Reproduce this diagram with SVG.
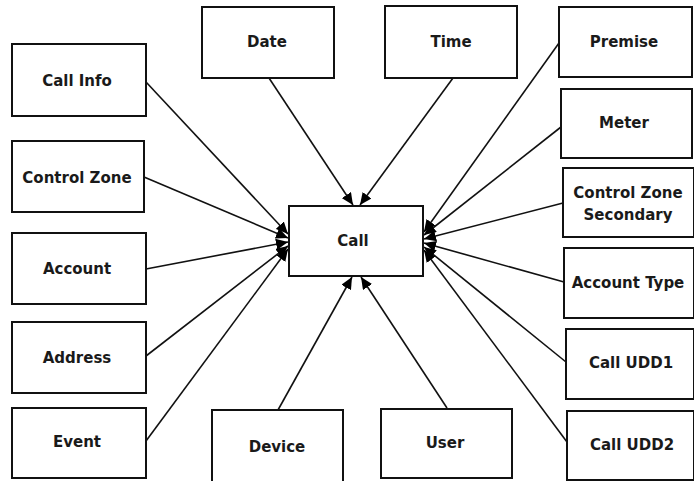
<svg xmlns="http://www.w3.org/2000/svg" width="694" height="481" viewBox="0 0 694 481">
<defs>
<marker id="arr" markerUnits="userSpaceOnUse" markerWidth="13" markerHeight="11" refX="12" refY="5.5" orient="auto">
<path d="M0,0 L12,5.5 L0,11 z" fill="#000"/>
</marker>
<style>
.box{fill:#fff;stroke:#111;stroke-width:2}
.t{font-family:"DejaVu Sans",Verdana,sans-serif;font-weight:bold;font-size:15px;fill:#1a1a1a;text-anchor:middle}
.c line{stroke:#111;stroke-width:1.6;marker-end:url(#arr)}
</style>
</defs>
<rect width="694" height="481" fill="#fff"/>
<g class="c" id="connectors">
<line x1="146" y1="82" x2="288" y2="234"/>
<line x1="144" y1="177" x2="288" y2="238"/>
<line x1="146" y1="269" x2="288" y2="242"/>
<line x1="146" y1="356" x2="288" y2="246"/>
<line x1="146" y1="441" x2="288" y2="249"/>
<line x1="269" y1="78" x2="353" y2="205"/>
<line x1="453" y1="78" x2="360" y2="205"/>
<line x1="278" y1="410" x2="352" y2="277"/>
<line x1="447" y1="408" x2="361" y2="277"/>
<line x1="559" y1="43" x2="424" y2="232"/>
<line x1="561" y1="127" x2="424" y2="235"/>
<line x1="563" y1="203" x2="424" y2="239"/>
<line x1="564" y1="282" x2="424" y2="243"/>
<line x1="566" y1="362" x2="424" y2="247"/>
<line x1="567" y1="442" x2="424" y2="250"/>
</g>
<g id="call"><rect class="box" x="289" y="206" width="134" height="70"/><text class="t" x="353" y="246">Call</text></g>
<g id="callinfo"><rect class="box" x="12" y="44" width="134" height="72"/><text class="t" x="77" y="86">Call Info</text></g>
<g id="controlzone"><rect class="box" x="12" y="141" width="132" height="71"/><text class="t" x="77" y="183">Control Zone</text></g>
<g id="account"><rect class="box" x="12" y="233" width="134" height="71"/><text class="t" x="77" y="274">Account</text></g>
<g id="address"><rect class="box" x="12" y="322" width="134" height="71"/><text class="t" x="77" y="363">Address</text></g>
<g id="event"><rect class="box" x="12" y="408" width="134" height="70"/><text class="t" x="77" y="447">Event</text></g>
<g id="date"><rect class="box" x="202" y="7" width="132" height="71"/><text class="t" x="267" y="47">Date</text></g>
<g id="time"><rect class="box" x="385" y="6" width="132" height="72"/><text class="t" x="451" y="47">Time</text></g>
<g id="device"><rect class="box" x="212" y="410" width="131" height="72"/><text class="t" x="277" y="452">Device</text></g>
<g id="user"><rect class="box" x="381" y="409" width="131" height="69"/><text class="t" x="445" y="448">User</text></g>
<g id="premise"><rect class="box" x="559" y="7" width="133" height="70"/><text class="t" x="624" y="47">Premise</text></g>
<g id="meter"><rect class="box" x="561" y="89" width="131" height="69"/><text class="t" x="624" y="128">Meter</text></g>
<g id="czs"><rect class="box" x="563" y="168" width="131" height="69"/><text class="t" x="628" y="198">Control Zone</text><text class="t" x="628" y="220">Secondary</text></g>
<g id="accounttype"><rect class="box" x="564" y="248" width="130" height="70"/><text class="t" x="628" y="288">Account Type</text></g>
<g id="calludd1"><rect class="box" x="566" y="329" width="128" height="70"/><text class="t" x="631" y="368">Call UDD1</text></g>
<g id="calludd2"><rect class="box" x="567" y="411" width="127" height="69"/><text class="t" x="632" y="450">Call UDD2</text></g>
</svg>
